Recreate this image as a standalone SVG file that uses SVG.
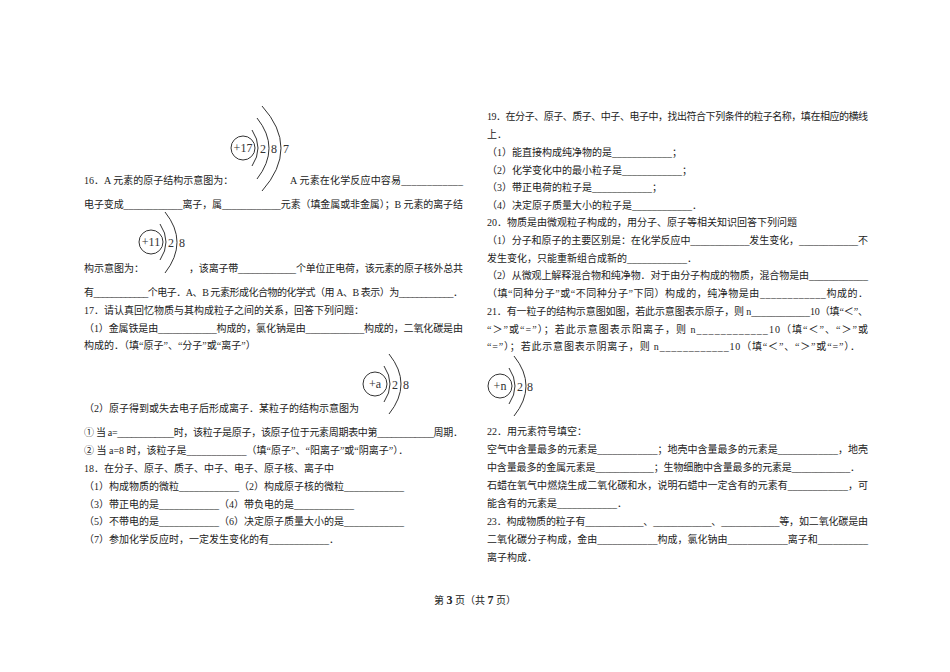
<svg xmlns="http://www.w3.org/2000/svg" width="950" height="672" viewBox="0 0 950 672">
<style>
text{font-family:"Liberation Serif","Noto Sans CJK SC",serif;font-size:10px;fill:#222}
.n{font-family:"Liberation Serif",serif;font-size:12px;fill:#333}
.arc{fill:none;stroke:#333;stroke-width:1}
.nuc{fill:#fff;stroke:#333;stroke-width:1}
</style>
<rect width="950" height="672" fill="#fff"/>
<g id="atom-cl">
<circle class="nuc" cx="243" cy="148" r="12"/>
<text class="n" x="243" y="152" text-anchor="middle" font-size="11">+17</text>
<text class="n" x="260" y="153">2</text><text class="n" x="271" y="153">8</text><text class="n" x="283" y="153">7</text>
<path class="arc" d="M252,130 Q264,148 252,166"/>
<path class="arc" d="M257,118 Q281,148 257,179"/>
<path class="arc" d="M262,106 Q300,148 262,191"/>
</g>
<g id="atom-na">
<circle class="nuc" cx="151" cy="242" r="12"/>
<text class="n" x="151" y="246" text-anchor="middle" font-size="11">+11</text>
<text class="n" x="168" y="247">2</text><text class="n" x="179" y="247">8</text>
<path class="arc" d="M160,224 Q172,242 160,260"/>
<path class="arc" d="M165,212 Q189,242 165,273"/>
</g>
<g id="atom-a">
<circle class="nuc" cx="375" cy="384" r="12"/>
<text class="n" x="375" y="388" text-anchor="middle" font-size="11">+a</text>
<text class="n" x="392" y="389">2</text><text class="n" x="403" y="389">8</text>
<path class="arc" d="M384,366 Q396,384 384,402"/>
<path class="arc" d="M389,354 Q413,384 389,414"/>
</g>
<g id="atom-n">
<circle class="nuc" cx="500" cy="386" r="12"/>
<text class="n" x="500" y="390" text-anchor="middle" font-size="11">+n</text>
<text class="n" x="517" y="391">2</text><text class="n" x="527" y="391">8</text>
<path class="arc" d="M509,368 Q521,386 509,404"/>
<path class="arc" d="M514,356 Q538,386 514,416"/>
</g>
<g id="left">
<text x="84" y="184">16．A 元素的原子结构示意图为：</text>
<text x="290" y="184" textLength="173" lengthAdjust="spacing">A 元素在化学反应中容易____________</text>
<text x="84" y="208" textLength="379" lengthAdjust="spacing">电子变成____________离子，属____________元素（填金属或非金属）；B 元素的离子结</text>
<text x="84" y="272">构示意图为：</text>
<text x="189" y="272" textLength="274" lengthAdjust="spacing">，该离子带____________个单位正电荷，该元素的原子核外总共</text>
<text x="84" y="296" textLength="379" lengthAdjust="spacing">有____________个电子．A、B 元素形成化合物的化学式（用 A、B 表示）为____________．</text>
<text x="84" y="314">17．请认真回忆物质与其构成粒子之间的关系，回答下列问题：</text>
<text x="84" y="332" textLength="379" lengthAdjust="spacing">（1）金属铁是由____________构成的，氯化钠是由____________构成的，二氧化碳是由</text>
<text x="84" y="349">构成的．（填“原子”、“分子”或“离子”）</text>
<text x="84" y="412">（2）原子得到或失去电子后形成离子．某粒子的结构示意图为</text>
<text x="84" y="436" textLength="379" lengthAdjust="spacing">① 当 a=____________时，该粒子是原子，该原子位于元素周期表中第____________周期．</text>
<text x="84" y="454">② 当 a=8 时，该粒子是____________（填“原子”、“阳离子”或“阴离子”）．</text>
<text x="84" y="472">18．在分子、原子、质子、中子、电子、原子核、离子中</text>
<text x="84" y="490">（1）构成物质的微粒____________（2）构成原子核的微粒____________</text>
<text x="84" y="508">（3）带正电的是____________（4）带负电的是____________</text>
<text x="84" y="525">（5）不带电的是____________（6）决定原子质量大小的是____________</text>
<text x="84" y="543">（7）参加化学反应时，一定发生变化的有____________．</text>
</g>
<g id="right">
<text x="487" y="120" textLength="381" lengthAdjust="spacing">19．在分子、原子、质子、中子、电子中，找出符合下列条件的粒子名称，填在相应的横线</text>
<text x="487" y="138">上．</text>
<text x="487" y="156">（1）能直接构成纯净物的是____________；</text>
<text x="487" y="174">（2）化学变化中的最小粒子是____________；</text>
<text x="487" y="191">（3）带正电荷的粒子是____________；</text>
<text x="487" y="209">（4）决定原子质量大小的粒子是____________．</text>
<text x="487" y="226">20．物质是由微观粒子构成的，用分子、原子等相关知识回答下列问题</text>
<text x="487" y="244" textLength="381" lengthAdjust="spacing">（1）分子和原子的主要区别是：在化学反应中____________发生变化，____________不</text>
<text x="487" y="262">发生变化，只能重新组合成新的____________．</text>
<text x="487" y="279" textLength="381" lengthAdjust="spacing">（2）从微观上解释混合物和纯净物．对于由分子构成的物质，混合物是由____________</text>
<text x="487" y="297" textLength="381" lengthAdjust="spacing">（填“同种分子”或“不同种分子”下同）构成的，纯净物是由____________构成的．</text>
<text x="487" y="315" textLength="381" lengthAdjust="spacing">21．有一粒子的结构示意图如图，若此示意图表示原子，则 n____________10（填“＜”、</text>
<text x="487" y="333" textLength="381" lengthAdjust="spacing">“＞”或“=”）；若此示意图表示阳离子，则 n____________10（填“＜”、“＞”或</text>
<text x="487" y="350" textLength="373" lengthAdjust="spacing">“=”）；若此示意图表示阴离子，则 n____________10（填“＜”、“＞”或“=”）．</text>
<text x="487" y="435">22．用元素符号填空：</text>
<text x="487" y="453" textLength="381" lengthAdjust="spacing">空气中含量最多的元素是____________；地壳中含量最多的元素是____________，地壳</text>
<text x="487" y="471" textLength="373" lengthAdjust="spacing">中含量最多的金属元素是____________；生物细胞中含量最多的元素是____________．</text>
<text x="487" y="489" textLength="381" lengthAdjust="spacing">石蜡在氧气中燃烧生成二氧化碳和水，说明石蜡中一定含有的元素有____________，可</text>
<text x="487" y="507">能含有的元素是____________．</text>
<text x="487" y="525" textLength="381" lengthAdjust="spacing">23．构成物质的粒子有____________、____________、____________等，如二氧化碳是由</text>
<text x="487" y="543" textLength="381" lengthAdjust="spacing">二氧化碳分子构成，金由____________构成，氯化钠由____________离子和__________</text>
<text x="487" y="561">离子构成．</text>
</g>
<text x="475" y="604" text-anchor="middle">第 <tspan font-weight="bold" font-size="12">3</tspan> 页（共 <tspan font-weight="bold" font-size="12">7</tspan> 页）</text>
</svg>
